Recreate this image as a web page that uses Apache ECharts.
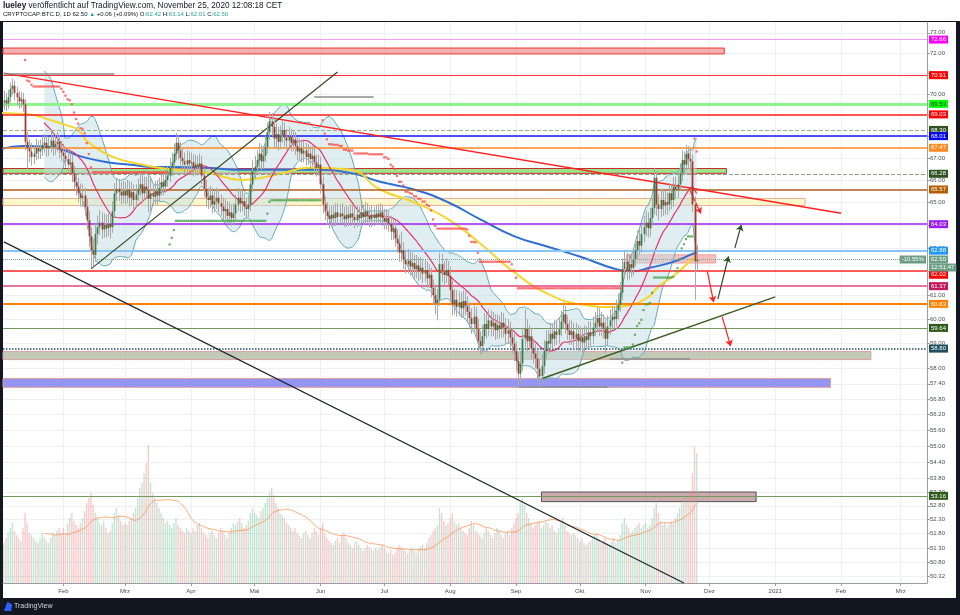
<!DOCTYPE html>
<html><head><meta charset="utf-8">
<script src="https://cdn.jsdelivr.net/npm/echarts@6/dist/echarts.min.js"></script>
<style>
html,body{margin:0;padding:0;background:#131722;}
#hdr{position:absolute;left:0;top:0;width:960px;height:21px;background:#fff;}
#box{position:absolute;left:3px;top:22px;width:953px;height:576px;background:#fff;}
#c{position:absolute;left:0;top:0;width:960px;height:615px;}
</style>
</head><body><div id="hdr"></div><div id="box"></div><div id="c"></div>
<script>
// ---------- DATA ----------
const firstDate = '2020-01-04';
const firstOpen = 69.60;
// rows: [close, high, low] per day (open = previous close)
const jan = [[69.70,70.15,69.25],[69.55,70.05,69.20],[69.85,70.20,69.30],[70.25,70.55,69.60],[70.40,70.75,69.95],[70.05,70.65,69.70],[69.85,70.35,69.45],[69.65,70.15,69.30],[69.75,70.10,69.35],[69.50,70.05,69.15],
[67.75,69.75,67.35],[67.45,68.20,66.50],[67.30,67.85,66.80],[67.05,67.70,66.65],[67.20,67.60,66.70],[67.45,67.90,66.90],[67.30,67.80,66.95],[67.40,67.85,66.95],[67.60,68.00,67.10],[67.70,68.10,67.25],
[67.45,68.05,67.05],[67.55,67.95,67.10],[67.80,68.20,67.25],[67.50,68.15,67.10],[67.65,68.05,67.15],[67.75,68.20,67.30],[67.40,68.05,67.00],[67.25,67.80,66.85]];
const feb = [[67.10,67.65,66.75],[66.95,67.50,66.55],[66.70,67.35,66.30],[66.80,67.25,66.35],[66.30,67.15,65.90],[65.90,66.65,65.55],[65.70,66.30,65.30],[65.40,66.10,65.00],[65.20,65.85,64.80],[65.30,65.80,64.80],
[64.80,65.65,64.40],[64.20,65.15,63.80],[63.50,64.60,63.05],[62.90,63.90,62.15],[62.70,63.40,62.20],[63.60,64.05,62.40],[63.90,64.40,63.15],[64.10,64.65,63.55],[63.80,64.55,63.40],[64.00,64.50,63.45],
[63.85,64.45,63.45],[64.05,64.50,63.50],[63.90,64.50,63.40],[64.60,65.05,63.65],[65.40,65.85,64.30],[65.60,66.10,65.05],[65.45,66.05,65.05],[65.30,65.90,64.90],[65.50,65.95,64.95]];
const mar = [[65.30,65.90,64.90],[65.55,66.00,64.95],[65.20,65.95,64.80],[65.45,65.90,64.85],[65.10,65.80,64.70],[65.35,65.80,64.75],[65.60,66.05,65.05],[65.80,66.30,65.25],[65.40,66.20,65.00],[65.70,66.15,65.10],
[65.55,66.15,65.15],[65.15,66.30,64.55],[65.40,66.05,64.60],[65.25,65.85,64.85],[65.50,65.95,64.90],[65.30,66.00,64.85],[65.65,66.10,65.00],[65.90,66.35,65.30],[65.70,66.30,65.30],[66.00,66.45,65.40],
[66.20,66.65,65.70],[66.55,67.00,65.90],[66.80,67.25,66.20],[67.20,67.65,66.50],[67.70,68.15,66.90],[67.35,68.05,66.95],[67.00,67.75,66.60],[66.85,67.45,66.45],[66.70,67.25,66.30],[66.90,67.35,66.35],[66.75,67.30,66.35]];
const apr = [[66.80,67.25,66.35],[66.55,67.15,66.15],[66.70,67.15,66.20],[66.60,67.10,66.20],[66.75,67.20,66.25],[66.20,67.10,65.80],[65.60,66.55,65.25],[65.20,66.00,64.80],[65.10,65.65,64.70],[65.30,65.75,64.75],
[64.90,65.65,64.50],[65.05,65.50,64.55],[65.20,65.65,64.70],[64.95,65.60,64.55],[64.80,65.35,64.40],[64.60,65.20,64.20],[64.70,65.15,64.25],[64.40,65.05,64.05],[64.55,65.00,64.05],[64.30,64.90,63.95],
[64.50,64.95,64.00],[64.90,65.35,64.20],[65.20,65.65,64.60],[64.95,65.55,64.55],[65.05,65.50,64.60],[64.80,65.40,64.40],[64.70,65.20,64.30],[64.90,65.35,64.35],[65.80,66.25,64.60],[66.40,66.90,65.45]];
const may = [[66.60,67.10,66.05],[66.90,67.35,66.25],[67.20,67.70,66.55],[66.85,67.60,66.45],[67.10,67.55,66.50],[67.50,68.00,66.80],[68.20,68.65,67.20],[68.70,69.15,67.85],[68.45,69.10,68.00],[67.90,68.85,67.45],
[68.10,68.60,67.50],[67.75,68.45,67.35],[68.05,68.50,67.40],[68.30,68.75,67.70],[67.95,68.65,67.55],[67.80,68.35,67.40],[68.00,68.45,67.45],[67.70,68.35,67.30],[67.85,68.30,67.30],[67.55,68.20,67.15],
[67.30,67.95,66.90],[67.45,67.90,66.90],[67.20,67.80,66.80],[67.35,67.80,66.80],[67.05,67.70,66.65],[67.20,67.65,66.70],[66.95,67.55,66.55],[67.10,67.55,66.60],[66.80,67.45,66.40],[66.55,67.15,66.15],[66.70,67.15,66.20]];
const jun = [[65.80,67.05,65.40],[64.90,66.15,64.50],[64.60,65.25,64.20],[64.40,65.00,64.00],[64.25,64.80,63.85],[64.45,64.85,63.90],[64.30,64.85,63.95],[64.55,64.95,63.95],[64.35,64.95,64.00],[64.50,64.90,64.00],
[64.40,64.95,64.05],[64.25,64.80,63.90],[64.45,64.85,63.90],[64.30,64.80,63.95],[64.50,64.90,63.95],[64.35,64.90,64.00],[64.20,64.75,63.85],[64.45,64.85,63.90],[64.30,64.80,63.95],[64.55,64.95,64.00],
[64.35,64.90,64.00],[64.60,65.00,64.05],[64.40,64.95,64.05],[64.25,64.80,63.90],[64.45,64.85,63.90],[64.30,64.80,63.95],[64.50,64.90,64.00],[64.35,64.90,64.00],[64.55,64.95,64.00],[64.30,64.90,63.95]];
const jul = [[64.15,64.70,63.80],[64.30,64.70,63.80],[64.05,64.65,63.70],[63.70,64.40,63.35],[63.85,64.25,63.35],[63.40,64.20,63.05],[63.20,63.80,62.80],[62.80,63.55,62.40],[62.90,63.70,62.40],[62.50,63.25,62.10],
[62.30,62.90,61.90],[62.45,62.95,61.90],[62.20,62.85,61.80],[62.35,62.80,61.80],[62.10,62.70,61.70],[62.25,62.70,61.70],[62.00,62.60,61.60],[62.15,62.60,61.65],[61.90,62.50,61.50],[62.05,62.50,61.55],
[61.70,62.40,61.30],[61.85,62.30,61.30],[61.30,62.15,60.90],[61.00,61.65,60.60],[60.65,61.40,60.20],[60.80,61.25,59.95],[62.30,62.80,60.55],[62.00,62.75,61.55],[61.85,62.45,61.40],[62.05,62.55,61.50],[61.80,62.45,61.40]];
const aug = [[61.20,62.20,60.80],[60.60,61.60,60.15],[60.80,61.25,60.20],[60.50,61.20,60.10],[60.70,61.15,60.15],[60.45,61.10,60.05],[60.75,61.20,60.10],[60.55,61.15,60.15],[60.30,60.95,59.90],[60.05,60.70,59.65],
[59.80,60.45,59.40],[60.10,60.55,59.45],[59.60,60.50,59.20],[59.10,60.00,58.70],[58.90,59.50,58.55],[59.30,59.75,58.60],[59.80,60.25,59.00],[59.60,60.20,59.20],[59.95,60.40,59.30],[59.70,60.35,59.30],
[59.85,60.30,59.30],[59.55,60.20,59.15],[59.75,60.20,59.20],[59.60,60.15,59.20],[59.85,60.30,59.25],[59.65,60.25,59.25],[59.40,60.05,59.00],[59.55,60.00,59.00],[59.25,59.90,58.85],[59.00,59.65,58.60],[58.70,59.40,58.30]];
const sep = [[58.30,59.10,57.90],[57.80,58.65,57.30],[58.20,58.70,57.40],[59.20,59.65,57.90],[59.60,60.40,58.85],[59.10,60.00,58.70],[59.30,59.75,58.75],[58.80,59.65,58.40],[58.60,59.20,58.20],[58.40,59.00,58.00],
[58.00,58.75,57.60],[57.70,58.40,57.30],[58.10,58.55,57.40],[58.70,59.15,57.80],[59.10,59.55,58.40],[59.00,59.55,58.60],[59.40,59.85,58.70],[59.20,59.80,58.80],[59.50,59.95,58.90],[59.35,59.90,58.95],
[59.60,60.05,59.00],[59.90,60.35,59.30],[60.20,60.70,59.60],[59.80,60.55,59.40],[59.55,60.15,59.15],[59.35,59.95,58.95],[59.50,59.95,58.95],[59.20,59.85,58.80],[59.40,59.85,58.80],[59.10,59.75,58.70]];
const oct = [[59.25,59.70,58.70],[59.05,59.65,58.65],[59.30,59.75,58.70],[59.15,59.70,58.75],[59.45,59.90,58.80],[59.30,59.90,58.90],[59.65,60.10,59.00],[59.85,60.30,59.30],[60.05,60.50,59.50],[59.70,60.45,59.30],
[59.85,60.30,59.30],[59.60,60.20,59.20],[59.20,59.95,58.60],[59.70,60.15,58.90],[59.95,60.40,59.35],[60.10,60.55,59.60],[60.00,60.50,59.60],[60.35,60.80,59.70],[60.60,61.05,60.00],[61.10,61.55,60.30],
[62.10,62.55,60.80],[62.40,62.90,61.70],[62.00,62.80,61.60],[62.30,62.75,61.65],[62.15,62.75,61.75],[62.50,62.95,61.80],[62.90,63.35,62.20],[63.30,63.75,62.55],[63.10,63.80,62.70],[63.60,64.05,62.80],[63.90,64.40,63.25]];
const nov = [[64.10,64.60,63.50],[63.85,64.55,63.45],[64.30,64.75,63.50],[64.75,65.20,63.95],[66.10,66.55,64.45],[64.90,66.40,64.40],[64.70,65.35,64.20],[65.10,65.60,64.35],[64.85,65.55,64.40],[65.00,65.50,64.45],
[64.90,65.45,64.45],[65.40,65.85,64.60],[65.10,65.80,64.70],[65.70,66.15,64.80],[65.55,66.15,65.15],[65.80,66.25,65.20],[66.30,66.75,65.50],[66.90,67.35,65.95],[66.70,67.30,66.25],[67.20,67.60,66.40],
[66.95,67.55,66.55],[66.85,67.40,66.40],[64.90,67.15,64.55],[62.42,65.25,60.80],[62.50,63.14,62.01]];

const volJan = [40,45,50,55,60,52,48,45,42,55,70,60,50,48,45,42,40,44,50,46,42,40,45,50,48,52,55,50];
const volFeb = [55,50,60,65,70,62,58,55,60,65,72,80,85,90,78,70,65,60,58,62,55,50,52,60,70,75,68,62,58];
const volMar = [60,58,62,65,70,75,85,95,100,110,120,138,100,90,85,80,75,70,65,60,62,58,55,60,65,58,55,52,50,55,52];
const volApr = [50,55,52,58,60,55,50,48,45,50,52,48,45,50,55,52,48,45,50,55,60,58,62,65,60,55,58,62,70,75];
const volMay = [70,68,65,72,75,80,85,90,95,88,80,75,70,68,65,60,58,55,52,55,50,48,45,50,52,48,45,50,55,52,48];
const volJun = [55,60,50,45,42,40,38,42,45,40,48,50,45,40,38,35,40,42,38,35,32,35,38,36,34,32,35,33,36,38];
const volJul = [35,32,30,33,28,30,35,38,36,34,32,30,33,35,32,30,34,36,38,35,40,45,48,52,55,58,75,70,62,58,60];
const volAug = [65,70,62,58,60,55,52,50,48,55,62,58,52,50,48,45,50,55,52,48,45,50,55,52,48,45,50,52,48,55,60];
const volSep = [65,70,80,85,78,70,65,60,55,58,60,62,55,58,62,60,55,58,52,50,55,60,65,58,52,50,48,50,48,45];
const volOct = [42,45,40,38,40,42,45,48,50,45,40,42,45,40,38,42,45,40,42,48,60,65,58,55,50,52,55,58,60,55,58];
const volNov = [60,55,58,65,75,80,70,62,58,60,55,58,62,60,65,70,75,80,85,90,88,92,110,136,130];

// moving averages
const ma50Points = [['2020-01-02',69.10],['2020-01-12',69.05],['2020-01-18',69.00],['2020-01-26',68.76],['2020-02-03',68.50],['2020-02-08',68.30],['2020-02-12',67.80],['2020-02-19',67.30],['2020-02-27',66.95],['2020-03-09',66.70],['2020-03-17',66.55],['2020-03-25',66.46],['2020-04-09',66.32],['2020-04-25',66.00],['2020-05-11',66.23],['2020-05-27',66.55],['2020-06-15',66.46],['2020-06-29',65.57],['2020-07-15',65.00],['2020-07-31',64.25],['2020-08-15',63.20],['2020-08-31',61.97],['2020-09-16',61.05],['2020-10-02',60.60],['2020-10-17',60.50],['2020-10-23',60.55],['2020-11-02',60.90],['2020-11-07',61.35],['2020-11-14',61.80],['2020-11-23',62.50],['2020-11-25',62.60]];
const ma200Points = [['2020-01-02',67.40],['2020-01-13',67.55],['2020-01-25',67.51],['2020-02-10',67.05],['2020-02-21',66.82],['2020-03-05',66.68],['2020-03-14',66.59],['2020-03-25',66.59],['2020-04-09',66.55],['2020-04-25',66.46],['2020-05-11',66.46],['2020-05-30',66.46],['2020-06-15',66.32],['2020-06-29',65.92],['2020-07-15',65.57],['2020-07-31',65.00],['2020-08-15',64.25],['2020-08-31',63.51],['2020-09-16',63.05],['2020-10-02',62.60],['2020-10-17',62.12],['2020-10-26',62.00],['2020-11-03',62.15],['2020-11-14',62.40],['2020-11-23',62.74],['2020-11-25',62.80]];

// horizontal levels
const levelValues = [72.66, 70.91, 69.53, 69.03, 68.30, 68.01, 67.47, 66.28, 65.57, 64.03, 62.88, 62.02, 61.37, 60.63, 59.64, 58.80, 53.16];
const lastPrice = 62.50;
const lastChange = '-10.55%';
const countdown = '12:51:47';

// zones (rectangles)
const zoneTop    = [72.24, 66.52, 65.17, 62.70, 58.68, 57.61, 53.30];
const zoneBottom = [71.95, 66.30, 64.86, 62.35, 58.36, 57.26, 52.95];
const zoneStart  = [null, null, null, '2020-10-23', null, null, '2020-09-13'];
const zoneEnd    = ['2020-12-08', '2020-12-09', '2021-01-15', '2020-12-04', '2021-02-15', '2021-01-27', '2020-12-23'];

// trend lines and arrows [start, end] as [date, value]
const trendLines = [
  [['2020-01-04', 71.01], ['2021-02-01', 64.51]],
  [['2020-02-14', 62.10], ['2020-06-09', 71.06]],
  [['2020-01-04', 63.26], ['2020-11-19', 50.08]],
  [['2020-09-13', 57.60], ['2021-01-01', 60.92]]
];
const greySegments = [
  [['2020-01-04', 70.96], ['2020-02-25', 70.96]],
  [['2020-05-29', 69.85], ['2020-06-26', 69.85]],
  [['2020-09-02', 57.27], ['2020-10-14', 57.27]],
  [['2020-10-15', 58.38], ['2020-11-22', 58.38]]
];
const arrowsDown = [
  [['2020-11-30', 62.00], ['2020-12-03', 60.70]],
  [['2020-12-07', 60.10], ['2020-12-11', 58.90]],
  [['2020-11-22', 65.50], ['2020-11-27', 64.50]]
];
const arrowsUp = [
  [['2020-12-05', 60.83], ['2020-12-10', 62.63]],
  [['2020-12-13', 63.00], ['2020-12-16', 64.00]]
];

// axis ticks
const yTicks = [73,72,71,70,69,68,67,66,65,64,63,62,61,60,59,58,57.4,56.8,56.2,55.6,55,54.4,53.8,53.3,52.8,52.3,51.8,51.3,50.8,50.32];
const xTickDates = ['2020-02-01','2020-03-01','2020-04-01','2020-05-01','2020-06-01','2020-07-01','2020-08-01','2020-09-01','2020-10-01','2020-11-01','2020-12-01','2021-01-01','2021-02-01','2021-03-01'];
const xTickLabels = ['Feb','Mrz','Apr','Mai','Jun','Jul','Aug','Sep','Okt','Nov','Dez','2021','Feb','Mrz'];

// ---------- STYLES ----------
const FONT = 'Liberation Sans, Arial, sans-serif';
const DAY = 86400000;
function ts(s){ const p = s.split('-').map(Number); return Date.UTC(p[0], p[1]-1, p[2]); }
const AXIS_MIN = ts('2020-01-01') + 2.6*DAY;
const AXIS_MAX = AXIS_MIN + 434.8*DAY;
const Y_MIN = 50.08, Y_MAX = 73.54;
const UP = '#3b7d4a', DOWN = '#a23a2e', WICK = '#a9a9a9';
const HIDDEN = 'rgba(0,0,0,0)';
const levelStyles = [
  {line:'#f39af3', w:1, type:'solid', bg:'#ff00ff', fg:'#fff'},
  {line:'#ff3030', w:1, type:'solid', bg:'#ff0000', fg:'#fff'},
  {line:'#8ef58e', w:3, type:'solid', bg:'#00ff00', fg:'#333'},
  {line:'#ff2020', w:1.5, type:'solid', bg:'#ff0000', fg:'#fff'},
  {line:'#9bb08f', w:1, type:'dashed', bg:'#2f5320', fg:'#fff'},
  {line:'#1515ff', w:1.5, type:'solid', bg:'#0000ff', fg:'#fff'},
  {line:'#ff8a1f', w:1.5, type:'solid', bg:'#ff8a1f', fg:'#fff'},
  {line:'#8aa37d', w:1, type:'dashed', bg:'#2f5320', fg:'#fff'},
  {line:'#b35c1e', w:1.5, type:'solid', bg:'#b35c00', fg:'#fff'},
  {line:'#a020f0', w:1.5, type:'solid', bg:'#9c1cf0', fg:'#fff'},
  {line:'#86c4f5', w:2, type:'solid', bg:'#2196f3', fg:'#fff'},
  {line:'#ff2a2a', w:1.5, type:'solid', bg:'#ff0000', fg:'#fff', off:4},
  {line:'#e0457c', w:1.5, type:'solid', bg:'#c2185b', fg:'#fff'},
  {line:'#ff8000', w:2, type:'solid', bg:'#ff8000', fg:'#fff'},
  {line:'#75985e', w:1, type:'solid', bg:'#2e5a1a', fg:'#fff'},
  {line:'#1f5060', w:1.5, type:'dotted', bg:'#1f4e5f', fg:'#fff'},
  {line:'#75985e', w:1, type:'solid', bg:'#2e5a1a', fg:'#fff'}
];
const zoneStyles = [
  {fill:'rgba(244,150,150,0.75)', border:'#e53935'},
  {fill:'rgba(140,225,120,0.85)', border:'#c62828'},
  {fill:'rgba(255,246,170,0.6)', border:'#e8a890'},
  {fill:'rgba(240,130,130,0.5)', border:'#e8a0a0'},
  {fill:'rgba(185,192,170,0.85)', border:'#d8a0a0'},
  {fill:'rgba(130,130,240,0.85)', border:'#e0a0a0'},
  {fill:'rgba(190,150,150,0.8)', border:'#555'}
];
const trendStyles = [
  {color:'#ff1f1f', width:1.5},
  {color:'#34461f', width:1.2},
  {color:'#1c262b', width:1.2},
  {color:'#3b5e23', width:1.5}
];

// ---------- BUILD ----------
const rows = [].concat(jan, feb, mar, apr, may, jun, jul, aug, sep, oct, nov);
const vols = [].concat(volJan, volFeb, volMar, volApr, volMay, volJun, volJul, volAug, volSep, volOct, volNov);
const t0 = ts(firstDate);
const candles = [];
let prev = firstOpen;
rows.forEach((r, i) => { candles.push([t0 + i*DAY, prev, r[0], r[2], r[1]]); prev = r[0]; });
const closes = candles.map(c => c[2]);

const ma20 = [], bbU = [], bbL = [];
for (let i = 19; i < closes.length; i++) {
  let s = 0; for (let k = i-19; k <= i; k++) s += closes[k];
  const m = s/20; let v = 0; for (let k = i-19; k <= i; k++) v += (closes[k]-m)*(closes[k]-m);
  const sd = Math.sqrt(v/20);
  ma20.push([candles[i][0], m]); bbU.push([candles[i][0], m+2*sd]); bbL.push([candles[i][0], m-2*sd]);
}
// trailing-stop dots (SuperTrend 10, 3)
const stops = [];
(function(){
  const n = 10, mult = 3; let atr = null, fu = null, fd = null, trend = -1;
  for (let i = 0; i < candles.length; i++) {
    const h = candles[i][4], l = candles[i][3], c = candles[i][2];
    const pc = i > 0 ? candles[i-1][2] : candles[i][1];
    const tr = Math.max(h-l, Math.abs(h-pc), Math.abs(l-pc));
    atr = atr === null ? tr : (atr*(n-1) + tr)/n;
    const mid = (h+l)/2, bu = mid - mult*atr, bd = mid + mult*atr;
    const nfu = (fu !== null && pc > fu) ? Math.max(bu, fu) : bu;
    const nfd = (fd !== null && pc < fd) ? Math.min(bd, fd) : bd;
    if (fu !== null) { if (trend === -1 && c > fd) trend = 1; else if (trend === 1 && c < fu) trend = -1; }
    fu = nfu; fd = nfd;
    if (i >= n) stops.push([candles[i][0], trend === 1 ? fu : fd, trend === 1 ? 1 : 0]);
  }
})();
const volData = candles.map((c, i) => ({value:[c[0], vols[i]], itemStyle:{color: c[2] >= c[1] ? 'rgba(120,200,160,0.45)' : 'rgba(240,140,140,0.45)'}}));
const volMa = [];
for (let i = 19; i < vols.length; i++) { let s = 0; for (let k = i-19; k <= i; k++) s += vols[k]; volMa.push([candles[i][0], s/20]); }

const levelMarks = levelValues.map((v, i) => {
  const st = levelStyles[i];
  return {yAxis: v, lineStyle:{color: st.line, width: st.w, type: st.type},
    label:{show:true, position:'end', formatter: v.toFixed(2), backgroundColor: st.bg, color: st.fg,
      fontSize:6, fontFamily: FONT, padding:[1,2,1,2], distance:2, offset:[0, st.off || 0]}};
});
levelMarks.push({yAxis: lastPrice, lineStyle:{color:'#7aa890', width:1, type:'dotted'},
  label:{show:true, position:'end', formatter: lastPrice.toFixed(2), backgroundColor:'#6b9e84', color:'#fff', fontSize:6, fontFamily:FONT, padding:[1,2,1,2], distance:2}});
levelMarks.push({yAxis: lastPrice, lineStyle:{color:HIDDEN, width:0},
  label:{show:true, position:'end', formatter: countdown, backgroundColor:'#6b9e84', color:'#fff', fontSize:6, fontFamily:FONT, padding:[1,2,1,2], distance:2, offset:[0,8]}});
levelMarks.push({yAxis: lastPrice, lineStyle:{color:HIDDEN, width:0},
  label:{show:true, position:'insideEnd', formatter: lastChange, backgroundColor:'#6b9e84', color:'#fff', fontSize:6, fontFamily:FONT, padding:[1,2,1,2], distance:1}});

const zoneMarks = zoneTop.map((t, i) => [
  {xAxis: zoneStart[i] ? ts(zoneStart[i]) : AXIS_MIN, yAxis: t, itemStyle:{color: zoneStyles[i].fill, borderColor: zoneStyles[i].border, borderWidth: 1}},
  {xAxis: ts(zoneEnd[i]), yAxis: zoneBottom[i]}
]);

function seg(pair, style, endSymbol) {
  return [
    {coord:[ts(pair[0][0]), pair[0][1]], symbol:'none', lineStyle: style},
    {coord:[ts(pair[1][0]), pair[1][1]], symbol: endSymbol || 'none', symbolSize: 6}
  ];
}
const lineMarks = [];
trendLines.forEach((p, i) => lineMarks.push(seg(p, {color: trendStyles[i].color, width: trendStyles[i].width, type:'solid'})));
greySegments.forEach(p => lineMarks.push(seg(p, {color:'#8c8c8c', width:1.5, type:'solid'})));
arrowsDown.forEach(p => lineMarks.push(seg(p, {color:'#ff2020', width:1.2, type:'solid'}, 'arrow')));
arrowsUp.forEach(p => lineMarks.push(seg(p, {color:'#2d4d22', width:1.2, type:'solid'}, 'arrow')));

const xTickTs = xTickDates.map(ts);
const gridMarks = xTickTs.map(t => ({xAxis: t})).concat(yTicks.map(v => ({yAxis: v})));

const option = {
  animation: false,
  backgroundColor: 'transparent',
  textStyle: {fontFamily: FONT},
  graphic: [
    {type:'text', left:3, top:1.5, style:{text:'{b|lueley} veröffentlicht auf TradingView.com, November 25, 2020 12:08:18 CET', fontSize:8.2, fontFamily:FONT, fill:'#131722', rich:{b:{fontWeight:'bold', fontSize:8.2, fontFamily:FONT, fill:'#131722'}}}},
    {type:'text', left:3, top:11.5, style:{text:'{d|CRYPTOCAP:BTC.D, 1D 62.50 }{g|▲}{d| +0.06 (+0.09%) O:}{g|62.42}{d| H:}{g|63.14}{d| L:}{g|62.01}{d| C:}{g|62.50}', fontSize:6, fontFamily:FONT, rich:{d:{fill:'#131722', fontSize:6, fontFamily:FONT}, g:{fill:'#26a69a', fontSize:6, fontFamily:FONT}}}},
    {type:'polygon', shape:{points:[[4,611],[8,601],[12,611]]}, style:{fill:'#2962ff'}},
    {type:'circle', shape:{cx:9, cy:606, r:3}, style:{fill:'#2962ff'}},
    {type:'text', left:14, top:603, style:{text:'TradingView', fontSize:7, fontFamily:FONT, fill:'#d1d4dc'}}
  ],
  grid: [
    {left:3, right:33, top:22, bottom:32},
    {left:3, right:33, top:443, bottom:32}
  ],
  xAxis: [
    {type:'value', gridIndex:0, min:AXIS_MIN, max:AXIS_MAX, scale:true,
     axisLine:{show:true, lineStyle:{color:'#9a9da6'}},
     axisTick:{show:true, customValues:xTickTs, length:3, lineStyle:{color:'#9a9da6'}},
     axisLabel:{customValues:xTickTs, fontSize:6, color:'#4a4d56', fontFamily:FONT, margin:5,
       formatter: v => { const i = xTickTs.indexOf(+v); return i >= 0 ? xTickLabels[i] : ''; }},
     splitLine:{show:false}},
    {type:'value', gridIndex:1, min:AXIS_MIN, max:AXIS_MAX, scale:true, show:false, splitLine:{show:false}}
  ],
  yAxis: [
    {type:'log', gridIndex:0, position:'right', min:Y_MIN, max:Y_MAX, logBase:10,
     axisLine:{show:true, lineStyle:{color:'#9a9da6'}},
     axisTick:{show:true, customValues:yTicks, length:3, lineStyle:{color:'#9a9da6'}},
     axisLabel:{customValues:yTicks, fontSize:6, color:'#4a4d56', fontFamily:FONT, margin:3,
       formatter: v => Number(v).toFixed(2)},
     splitLine:{show:false}},
    {type:'value', gridIndex:1, min:0, max:140, show:false, splitLine:{show:false}}
  ],
  series: [
    {name:'grid', type:'line', xAxisIndex:0, yAxisIndex:0, data:[[AXIS_MIN, 60]], showSymbol:false, z:0, silent:true,
     markLine:{silent:true, symbol:['none','none'], z:0, label:{show:false}, lineStyle:{color:'#eef0f3', width:1, type:'solid'}, data: gridMarks}},
    {name:'Volume', type:'bar', xAxisIndex:1, yAxisIndex:1, data: volData, barWidth:1.4, z:1, silent:true},
    {name:'Vol MA', type:'line', xAxisIndex:1, yAxisIndex:1, data: volMa, showSymbol:false, smooth:true, z:1, silent:true,
     lineStyle:{color:'rgba(255,140,70,0.75)', width:1}},
    {name:'BB fill', type:'custom', xAxisIndex:0, yAxisIndex:0, data:[[bbU[0][0], 60]], z:1, silent:true,
     renderItem: function(params, api){
       const pts = bbU.map(p => api.coord(p)).concat(bbL.slice().reverse().map(p => api.coord(p)));
       return {type:'polygon', shape:{points:pts}, style:{fill:'rgba(195,222,228,0.5)'}};
     }},
    {name:'zones', type:'line', xAxisIndex:0, yAxisIndex:0, data:[[AXIS_MIN, 60]], showSymbol:false, z:2, silent:true,
     markArea:{silent:true, data: zoneMarks}},
    {name:'BB upper', type:'line', data: bbU, showSymbol:false, smooth:0.3, z:3, silent:true, lineStyle:{color:'#5fa8b6', width:1}},
    {name:'BB lower', type:'line', data: bbL, showSymbol:false, smooth:0.3, z:3, silent:true, lineStyle:{color:'#5fa8b6', width:1}},
    {name:'MA200', type:'line', data: ma200Points.map(p => [ts(p[0]), p[1]]), showSymbol:false, smooth:0.5, z:3, silent:true, lineStyle:{color:'#2e6fd6', width:2}},
    {name:'MA50', type:'line', data: ma50Points.map(p => [ts(p[0]), p[1]]), showSymbol:false, smooth:0.5, z:3, silent:true, lineStyle:{color:'#f7d52a', width:2}},
    {name:'MA20', type:'line', data: ma20, showSymbol:false, smooth:0.3, z:3, silent:true, lineStyle:{color:'#e8336e', width:1.2}},
    {name:'levels', type:'line', data:[[AXIS_MIN, 60]], showSymbol:false, z:4, silent:true,
     markLine:{silent:true, symbol:['none','none'], data: levelMarks}},
    {name:'BTC.D', type:'custom', xAxisIndex:0, yAxisIndex:0, data: candles, encode:{x:0, y:[1,2,3,4]}, z:5, silent:true,
     renderItem: function(params, api){
       const t = api.value(0), o = api.value(1), c = api.value(2), l = api.value(3), h = api.value(4);
       const pO = api.coord([t,o]), pC = api.coord([t,c]), pL = api.coord([t,l]), pH = api.coord([t,h]);
       const x = Math.round(pO[0]) + 0.5;
       const top = Math.min(pO[1], pC[1]);
       const hh = Math.max(1, Math.abs(pO[1]-pC[1]));
       return {type:'group', children:[
         {type:'line', shape:{x1:x, y1:pH[1], x2:x, y2:pL[1]}, style:{stroke:WICK, lineWidth:1}},
         {type:'rect', shape:{x:x-0.9, y:top, width:1.8, height:hh}, style:{fill: c >= o ? UP : DOWN}}
       ]};
     }},
    {name:'Stops', type:'scatter', data: stops, symbol:'rect', symbolSize:2.2, z:5, silent:true,
     itemStyle:{color: p => p.data[2] ? '#43a047' : '#ff4a4a'}},
    {name:'drawings', type:'line', data:[[AXIS_MIN, 60]], showSymbol:false, z:6, silent:true,
     markLine:{silent:true, symbol:['none','none'], label:{show:false}, data: lineMarks}}
  ]
};
const chart = echarts.init(document.getElementById('c'), null, {renderer:'canvas'});
chart.setOption(option);
</script>
</body></html>
